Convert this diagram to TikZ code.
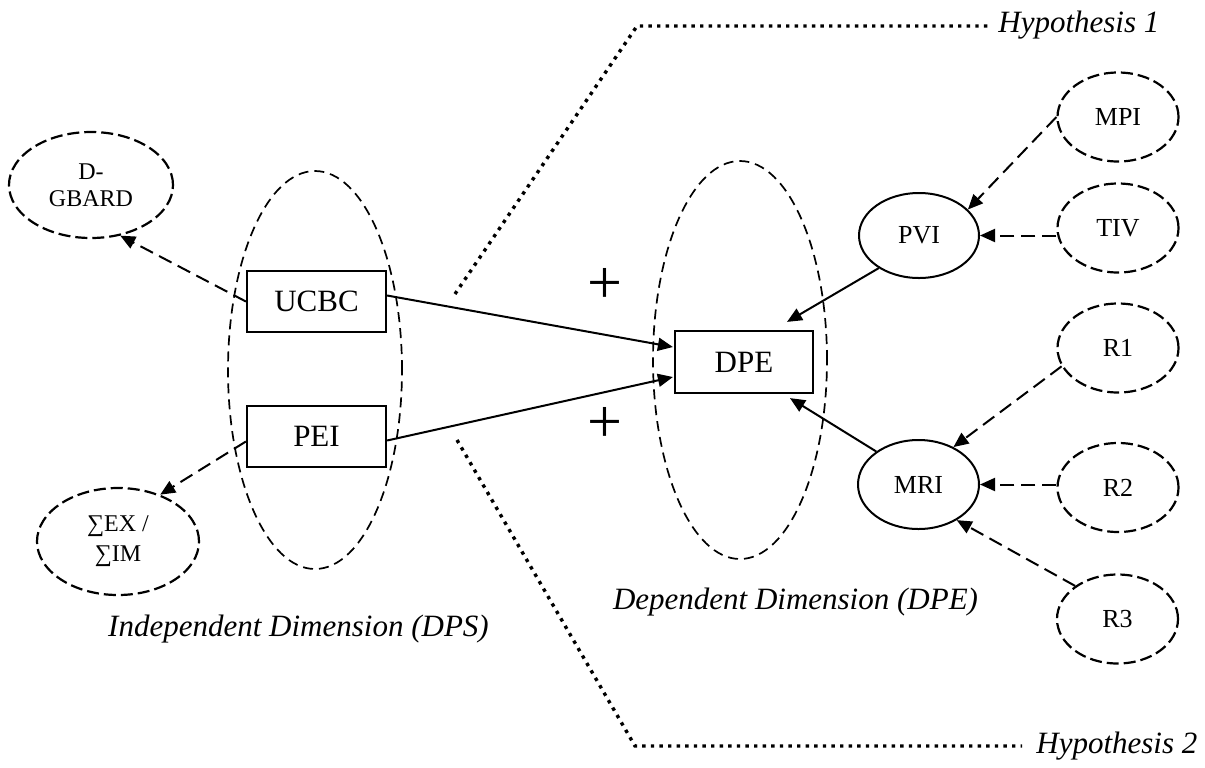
\documentclass[tikz,border=0pt]{standalone}
\usepackage{fontspec}
\setmainfont{Liberation Serif}
\usetikzlibrary{shapes.geometric,arrows.meta,calc}

\tikzset{
    box/.style={draw,line width=1.1pt,minimum width=69.5pt,minimum height=30.5pt,inner sep=0pt,font=\fontsize{15.5}{18}\selectfont},
    oval/.style={draw,ellipse,line width=1pt,inner sep=0pt,minimum width=60.5pt,minimum height=44.5pt,font=\fontsize{13}{15}\selectfont},
    dashoval/.style={oval,line width=1.1pt,dash pattern=on 6pt off 2.5pt},
    bigoval/.style={draw,ellipse,line width=0.85pt,dash pattern=on 5pt off 3pt,minimum width=87pt,minimum height=199pt},
    solidarrow/.style={-{Triangle[length=7.5pt,width=6.5pt]},line width=1pt},
    dasharrow/.style={solidarrow,dash pattern=on 7pt off 3.5pt},
    hypline/.style={line width=1.7pt,dash pattern=on 1.7pt off 2.6pt},
    dimlabel/.style={anchor=base,inner sep=0pt,font=\fontsize{15.5}{18}\selectfont\itshape},
    plus/.style={inner sep=0pt,font=\fontsize{31}{31}\selectfont}
}

\begin{document}
\begin{tikzpicture}[x=0.5pt,y=-0.5pt]
                \useasboundingbox (0,0) rectangle (1205,767);
                \node[bigoval](indep)at(315,370){};
                \node[bigoval](depend)at(740,360){};
                \node[box](ucbc)at(316.5,301.5){UCBC};
                \node[box](pei)at(316.5,436.5){PEI};
                \node[box,minimum width=69pt,minimum height=31pt](dpe)at(744,362){DPE};
                \node[oval,minimum width=60pt,minimum height=42.5pt](pvi)at(919,235.5){PVI};
                \node[oval](mri)at(918.5,484.5){MRI};
                \node[dashoval](mpi)at(1118,117){MPI};
                \node[dashoval](tiv)at(1118,228){TIV};
                \node[dashoval](rone)at(1118,348){R1};
                \node[dashoval](rtwo)at(1118,487.5){R2};
                \node[dashoval](rthree)at(1117.5,619){R3};
                \node[dashoval,align=center,minimum width=82pt,minimum height=53pt,font=\fontsize{12}{13.5}\selectfont](dgbard)at(91,185){D-\\GBARD};
                \node[dashoval,align=center,minimum width=81pt,minimum height=53.5pt,font=\fontsize{12}{15}\selectfont](sumex)at(118,541.5){∑EX /\\∑IM};
                \node[plus](plusa)at(605,286){+};
                \node[plus](plusb)at(605,425){+};
                \node[dimlabel](indeplabel)at(298.5,636){Independent Dimension (DPS)};
                \node[dimlabel](dependlabel)at(795.5,609){Dependent Dimension (DPE)};
                \node[dimlabel,anchor=base west](hypa)at(998,32){Hypothesis 1};
                \node[dimlabel,anchor=base west](hypb)at(1036,753){Hypothesis 2};
                \coordinate(HA)at(455,294);
                \coordinate(HB)at(637,26);
                \coordinate(HC)at(457,440);
                \coordinate(HD)at(635,746);
                \draw[hypline,shorten >=5pt](HA)--(HB)--(HB-|hypa.west);
                \draw[hypline,shorten >=7pt](HC)--(HD)--(HD-|hypb.west);
                \draw[solidarrow]($(ucbc.east)+(0,-6)$)--($(dpe.west)+(-1,-15)$);
                \draw[solidarrow]($(pei.east)+(0,4)$)--($(dpe.west)+(-1,15)$);
                \draw[solidarrow](pvi.219)--($(dpe.north)+(43,-8)$);
                \draw[solidarrow](mri.142)--($(dpe.south)+(46,4)$);
                \draw[dasharrow](ucbc.west)--(dgbard.300);
                \draw[dasharrow]($(pei.west)+(0,5)$)--(sumex.48);
                \draw[dasharrow](mpi.west)--(pvi.28);
                \draw[dasharrow](tiv.west|-pvi.east)--(pvi.east);
                \draw[dasharrow](rone.198)--(mri.47);
                \draw[dasharrow](rtwo.west|-mri.east)--(mri.east);
                \draw[dasharrow](rthree.142)--(mri.317);
            \end{tikzpicture}
\end{document}
